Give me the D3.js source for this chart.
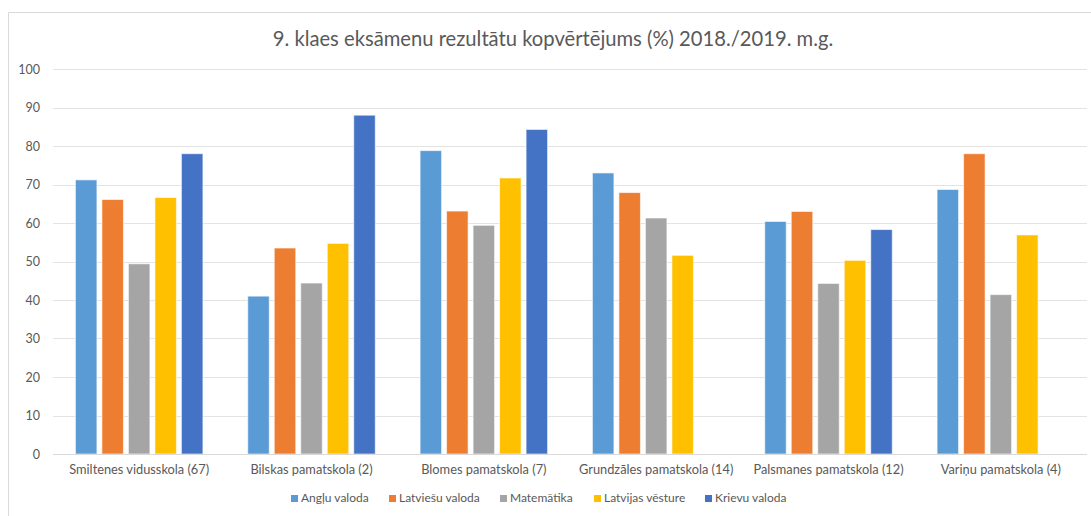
<!DOCTYPE html>
<html><head><meta charset="utf-8">
<script src="https://cdn.jsdelivr.net/npm/d3@7"></script>
<style>body{margin:0;background:#fff}svg{display:block}text{font-family:Lato,"Open Sans",sans-serif}</style>
</head><body>
<svg id="c" width="1091" height="516"></svg>
<script>
const categories = ["Smiltenes vidusskola (67)","Bilskas pamatskola (2)","Blomes pamatskola (7)","Grundzāles pamatskola (14)","Palsmanes pamatskola (12)","Variņu pamatskola (4)"];
const seriesNames = ["Angļu valoda","Latviešu valoda","Matemātika","Latvijas vēsture","Krievu valoda"];
const seriesColors = ["#5B9BD5","#ED7D31","#A5A5A5","#FFC000","#4472C4"];
const angluValoda = [71.2, 41.0, 78.8, 73.0, 60.4, 68.7];
const latviesuValoda = [66.1, 53.5, 63.1, 67.9, 63.0, 78.0];
const matematika = [49.4, 44.4, 59.4, 61.3, 44.3, 41.4];
const latvijasVesture = [66.6, 54.7, 71.7, 51.6, 50.3, 56.9];
const krievuValoda = [78.0, 88.0, 84.3, null, 58.3, null];
const yTicks = [0,10,20,30,40,50,60,70,80,90,100];
const title = "9. klaes eksāmenu rezultātu kopvērtējums (%) 2018./2019. m.g.";

const series = [angluValoda, latviesuValoda, matematika, latvijasVesture, krievuValoda];
const svg = d3.select("#c");

// chart border
svg.append("path").attr("d","M8.5,516 V12.5 H1091").attr("fill","none").attr("stroke","#d9d9d9").attr("stroke-width",1);

const pLeft = 53, pRight = 1087, pTop = 69, pBottom = 454;
const x0 = d3.scaleBand().domain(categories).range([pLeft, pRight]);
const y = d3.scaleLinear().domain([0,100]).range([pBottom, pTop]);
const step = 26.5, bw = 21.5;
const x1 = d3.scaleBand().domain(d3.range(5)).range([-2.5*step, 2.5*step]);

// gridlines
svg.append("g").selectAll("line").data(yTicks).join("line")
  .attr("x1", pLeft).attr("x2", pRight)
  .attr("y1", d => Math.round(y(d))+0.5).attr("y2", d => Math.round(y(d))+0.5)
  .attr("stroke", "#e3e3e3").attr("stroke-width", 1);

// y axis labels
const yAxis = d3.axisLeft(y).tickValues(yTicks).tickSize(0).tickPadding(0);
const ya = svg.append("g").attr("transform","translate(40,0)").call(yAxis);
ya.select(".domain").remove();
ya.selectAll("text").attr("fill","#595959").style("font-size","12.5px").style("font-family","Lato,'Open Sans',sans-serif");

// bars
series.forEach((vals, si) => {
  svg.append("g").selectAll("rect").data(vals.map((v,i)=>({v, c:categories[i]})).filter(d=>d.v!=null)).join("rect")
    .attr("x", d => x0(d.c) + x0.bandwidth()/2 + x1(si) + (step-bw)/2)
    .attr("width", bw)
    .attr("y", d => y(d.v))
    .attr("height", d => y(0) - y(d.v))
    .attr("fill", seriesColors[si])
    .attr("stroke", "#fff").attr("stroke-opacity",0.6).attr("stroke-width", 1);
});

// x axis baseline
svg.append("line").attr("x1",pLeft).attr("x2",pRight).attr("y1",pBottom+0.5).attr("y2",pBottom+0.5).attr("stroke","#d9d9d9");

// x axis labels
const xAxis = d3.axisBottom(x0).tickSize(0).tickPadding(0);
const xa = svg.append("g").attr("transform",`translate(0,${pBottom+8})`).call(xAxis);
xa.select(".domain").remove();
xa.selectAll("text").attr("fill","#595959").style("font-size","12.8px").style("font-family","Lato,'Open Sans',sans-serif").attr("dy","0.9em");

// title
svg.append("text").attr("x",553).attr("y",46).attr("text-anchor","middle")
  .attr("fill","#595959").style("font-size","20.2px").text(title);

// legend
const legX = [291, 389, 500, 594, 705];
const lg = svg.append("g").selectAll("g").data(seriesNames).join("g")
  .attr("transform",(d,i)=>`translate(${legX[i]},502)`);
lg.append("rect").attr("x",0).attr("y",-7).attr("width",7).attr("height",7).attr("fill",(d,i)=>seriesColors[i]);
lg.append("text").attr("x",10).attr("y",0).attr("fill","#595959").style("font-size","12px").text(d=>d);
</script>
</body></html>
